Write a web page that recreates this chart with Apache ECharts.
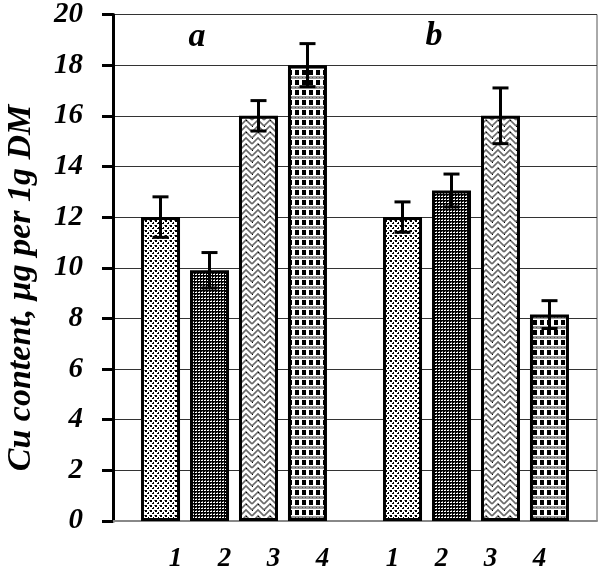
<!DOCTYPE html>
<html>
<head>
<meta charset="utf-8">
<script src="https://cdn.jsdelivr.net/npm/echarts@6/dist/echarts.min.js"></script>
<style>html,body{margin:0;padding:0;background:#fff}#c{width:600px;height:572px}</style>
</head>
<body>
<div id="c"></div>
<script>
var groups = ['a', 'b'];
var treatmentLabels = ['1', '2', '3', '4'];
var values1 = [12.0, 12.0];
var values2 = [9.9, 13.05];
var values3 = [16.0, 16.0];
var values4 = [18.0, 8.15];
var errors1 = [0.8, 0.6];
var errors2 = [0.7, 0.65];
var errors3 = [0.6, 1.1];
var errors4 = [0.85, 0.55];
var yTicks = { min: 0, max: 20, interval: 2 };
var yTitle = 'Cu content, \u03bcg per 1g DM';

var FONT = 'Liberation Serif';
var BAR_W = 39, BAR_GAP = 10;

function tile(w, h, draw) {
  var c = document.createElement('canvas');
  c.width = w; c.height = h;
  var ctx = c.getContext('2d');
  ctx.fillStyle = '#fff'; ctx.fillRect(0, 0, w, h);
  draw(ctx);
  return { image: c, repeat: 'repeat' };
}
var pat1 = tile(5, 5, function (g) {
  g.fillStyle = '#000';
  g.fillRect(0, 0, 2, 2); g.fillRect(2, 3, 2, 1); g.fillRect(3, 2, 1, 2);
  g.fillStyle = '#777'; g.fillRect(4, 0, 1, 1);
});
var pat2 = tile(3, 3, function (g) {
  g.fillStyle = '#000'; g.fillRect(0, 0, 3, 3);
  g.fillStyle = '#fff'; g.fillRect(1, 1, 1, 1); g.fillRect(0, 1, 1, 1);
  g.fillStyle = '#888'; g.fillRect(1, 0, 1, 1);
});
var pat3 = tile(12, 12, function (g) {
  g.strokeStyle = '#6a6a6a'; g.lineWidth = 1.6;
  for (var y = -6; y <= 12; y += 6) {
    g.beginPath();
    g.moveTo(0, y + 6); g.lineTo(6, y); g.lineTo(12, y + 6);
    g.stroke();
  }
  g.fillStyle = '#000';
  g.fillRect(6, 0, 1, 1); g.fillRect(0, 6, 1, 1);
});
var pat4 = tile(7, 10, function (g) {
  g.fillStyle = '#000';
  g.fillRect(1, 0, 4, 5);
  g.fillStyle = '#999'; g.fillRect(0, 6, 7, 3);
  g.fillStyle = '#555'; g.fillRect(1, 7, 1, 1); g.fillRect(4, 7, 1, 1);
});

var seriesValues = [values1, values2, values3, values4];
var seriesErrors = [errors1, errors2, errors3, errors4];
var patterns = [pat1, pat2, pat3, pat4];
var labelOffsets = [[15, 0], [-10, 0]];

var series = seriesValues.map(function (vals, si) {
  return {
    type: 'bar',
    name: treatmentLabels[si],
    barWidth: BAR_W,
    barGap: (BAR_GAP / BAR_W * 100).toFixed(1) + '%',
    itemStyle: { color: patterns[si], borderColor: '#000', borderWidth: 3 },
    label: {
      show: true, position: 'bottom', distance: 25,
      formatter: function () { return treatmentLabels[si]; },
      fontFamily: FONT, fontStyle: 'italic', fontWeight: 'bold', fontSize: 27, color: '#000'
    },
    emphasis: { disabled: true },
    silent: true,
    data: vals.map(function (v, gi) { return { value: v, label: { offset: labelOffsets[gi] } }; })
  };
});

var errData = [];
seriesValues.forEach(function (vals, si) {
  vals.forEach(function (v, gi) { errData.push([gi, v, seriesErrors[si][gi], si]); });
});
series.push({
  type: 'custom',
  z: 10,
  silent: true,
  data: errData,
  renderItem: function (params, api) {
    var gi = api.value(0), v = api.value(1), e = api.value(2), si = api.value(3);
    var base = api.coord([gi, v]);
    var x = base[0] + (si - 1.5) * (BAR_W + BAR_GAP);
    var yHi = api.coord([gi, v + e])[1];
    var yLo = api.coord([gi, v - e])[1];
    var hw = 8;
    var st = { stroke: '#000', lineWidth: 3 };
    return {
      type: 'group',
      children: [
        { type: 'line', shape: { x1: x, y1: yHi, x2: x, y2: yLo }, style: st },
        { type: 'line', shape: { x1: x - hw, y1: yHi, x2: x + hw, y2: yHi }, style: st },
        { type: 'line', shape: { x1: x - hw, y1: yLo, x2: x + hw, y2: yLo }, style: st }
      ]
    };
  }
});

var chart = echarts.init(document.getElementById('c'), null, { renderer: 'canvas' });
chart.setOption({
  animation: false,
  backgroundColor: '#fff',
  grid: { left: 113, right: 3, top: 11, bottom: 51, show: true, borderColor: '#555', borderWidth: 1, backgroundColor: 'transparent' },
  xAxis: {
    type: 'category',
    data: groups,
    axisLine: { lineStyle: { color: '#888', width: 2 } },
    axisTick: { show: false },
    axisLabel: { show: false }
  },
  yAxis: {
    type: 'value',
    min: yTicks.min, max: yTicks.max, interval: yTicks.interval,
    axisLine: { show: true, lineStyle: { color: '#000', width: 3 } },
    axisTick: { show: true, length: 11, inside: false, lineStyle: { color: '#000', width: 3 } },
    axisLabel: { margin: 30, fontFamily: FONT, fontStyle: 'italic', fontWeight: 'bold', fontSize: 29, color: '#000' },
    splitLine: { show: true, lineStyle: { color: '#333', width: 1 } }
  },
  graphic: [
    { type: 'text', x: 21, y: 288, rotation: Math.PI / 2,
      style: { text: yTitle, font: 'italic bold 34px ' + FONT, fill: '#000', align: 'center', verticalAlign: 'middle' } },
    { type: 'text', x: 197, y: 37,
      style: { text: groups[0], font: 'italic bold 34px ' + FONT, fill: '#000', align: 'center', verticalAlign: 'middle' } },
    { type: 'text', x: 434, y: 36,
      style: { text: groups[1], font: 'italic bold 34px ' + FONT, fill: '#000', align: 'center', verticalAlign: 'middle' } }
  ],
  series: series
});
</script>
</body>
</html>
